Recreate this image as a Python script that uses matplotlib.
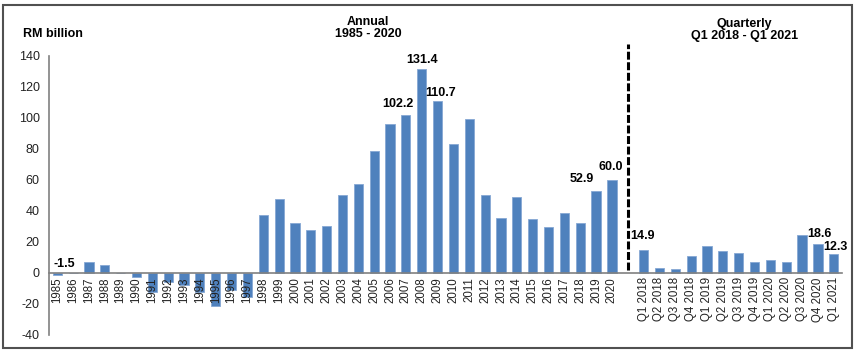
import matplotlib.pyplot as plt
from matplotlib.patches import Rectangle

plt.rcParams["font.family"] = ["Liberation Sans", "DejaVu Sans"]
plt.rcParams["axes.unicode_minus"] = False

annual_years = [str(y) for y in range(1985, 2021)]
annual_values = [-1.5, 0.0, 6.8, 4.9, 0.0, -2.4, -12.0, -5.5, -7.5, -12.0,
                 -21.5, -11.0, -15.5, 37.1, 47.8, 32.1, 27.6, 30.4, 50.6, 57.3,
                 78.4, 96.1, 102.2, 131.4, 110.7, 83.1, 99.3, 50.2, 35.5, 48.7,
                 35.1, 29.7, 38.4, 32.1, 52.9, 60.0]

quarter_labels = ["Q1 2018", "Q2 2018", "Q3 2018", "Q4 2018", "Q1 2019", "Q2 2019",
                  "Q3 2019", "Q4 2019", "Q1 2020", "Q2 2020", "Q3 2020", "Q4 2020",
                  "Q1 2021"]
quarter_values = [14.9, 3.2, 2.8, 10.8, 17.2, 14.4, 13.1, 6.9, 8.6, 7.3, 24.8, 18.6, 12.3]

# labelled bars: (label, offset x pt, offset y pt)
annual_labels = {"1985": (5, 2), "2007": (-6, 3), "2008": (0, 2), "2009": (2, 2),
                 "2019": (-10, 4), "2020": (-1, 5)}
quarter_marks = {"Q1 2018": (-1, 6), "Q4 2020": (1, 3), "Q1 2021": (1, 1)}

BAR = "#4F81BD"

fig = plt.figure(figsize=(8.58, 3.54), dpi=100)
ax = fig.add_axes([0.0575, 0.0537, 0.9235, 0.7883])
ax.set_axisbelow(False)

x_annual = list(range(len(annual_years)))
gap = len(annual_years)
x_quarter = [gap + 1 + i for i in range(len(quarter_labels))]

ax.bar(x_annual, annual_values, width=0.58, color=BAR, edgecolor="#86A8D4", linewidth=0.6, zorder=2)
ax.bar(x_quarter, quarter_values, width=0.58, color=BAR, edgecolor="#86A8D4", linewidth=0.6, zorder=2)

ax.set_xlim(-0.5, x_quarter[-1] + 0.5)
ax.set_ylim(-40, 140)
ax.set_yticks(range(-40, 141, 20))
ax.set_xticks(x_annual + x_quarter)
ax.set_xticklabels(annual_years + quarter_labels)
ax.tick_params(axis="both", length=0)
ax.tick_params(axis="x", labelrotation=90, labelsize=8.3, colors="#222222", pad=3)
ax.tick_params(axis="y", labelsize=9, colors="#222222", pad=7)

for s in ["top", "right"]:
    ax.spines[s].set_visible(False)
ax.spines["bottom"].set_position(("data", 0))
ax.spines["bottom"].set_color("#808080")
ax.spines["bottom"].set_linewidth(1.2)
ax.spines["left"].set_color("#808080")
ax.spines["left"].set_linewidth(1.2)

for yr, (dx, dy) in annual_labels.items():
    i = annual_years.index(yr)
    v = annual_values[i]
    ax.annotate(f"{v:.1f}", (i, max(v, 0)), xytext=(dx, dy), textcoords="offset points",
                ha="center", va="bottom", fontsize=9, fontweight="bold")
for q, (dx, dy) in quarter_marks.items():
    i = quarter_labels.index(q)
    v = quarter_values[i]
    ax.annotate(f"{v:.1f}", (x_quarter[i], v), xytext=(dx, dy), textcoords="offset points",
                ha="center", va="bottom", fontsize=9, fontweight="bold")

# separator between annual and quarterly
ax.plot([gap, gap], [2, 148], color="black", linestyle=(0, (2.6, 0.85)), linewidth=2.2,
        clip_on=False, zorder=3)

fig.text(0.027, 0.905, "RM billion", fontsize=9, fontweight="bold", va="center")
fig.text(0.429, 0.922, "Annual\n1985 - 2020", fontsize=9, fontweight="bold",
         ha="center", va="center", linespacing=1.0)
fig.text(0.868, 0.915, "Quarterly\nQ1 2018 - Q1 2021", fontsize=9, fontweight="bold",
         ha="center", va="center", linespacing=1.0)

fig.patches.append(Rectangle((0.004, 0.017), 0.989, 0.969, transform=fig.transFigure,
                             fill=False, edgecolor="#505050", linewidth=1.5))

fig.savefig("out.png", dpi=100)
